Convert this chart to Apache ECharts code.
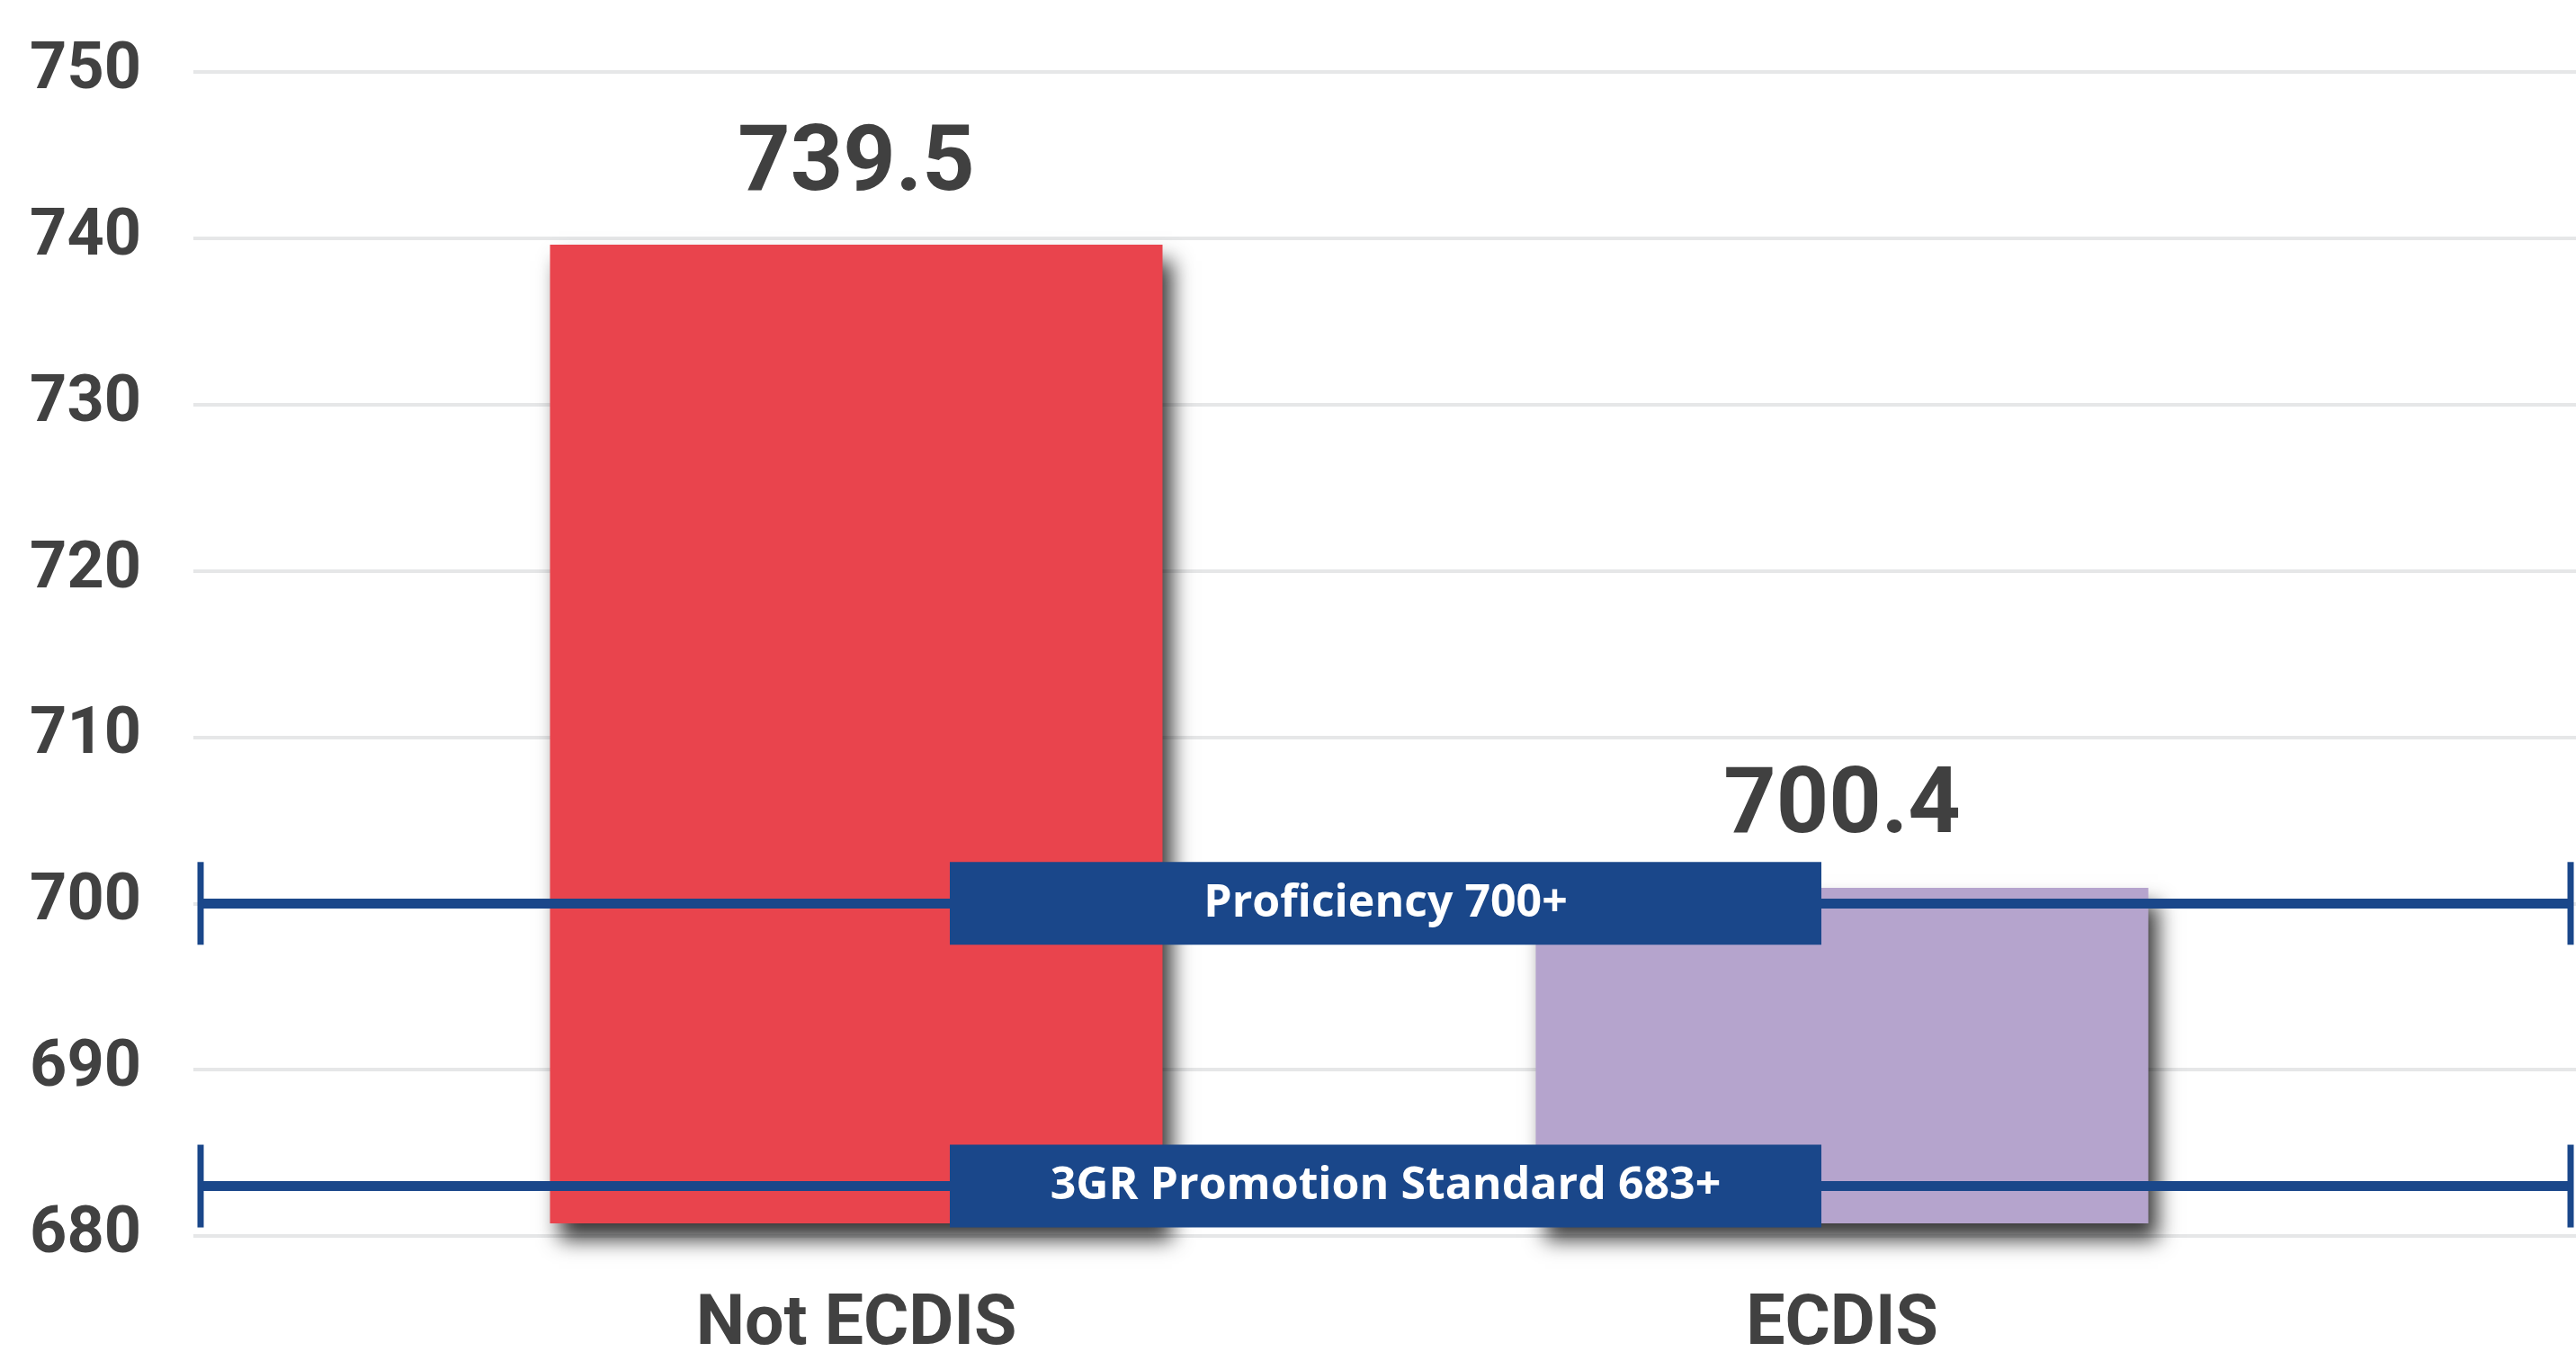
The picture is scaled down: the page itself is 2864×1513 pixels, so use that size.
<!DOCTYPE html>
<html>
<head>
<meta charset="utf-8">
<script src="https://cdn.jsdelivr.net/npm/echarts@6/dist/echarts.min.js"></script>
<style>
html,body{margin:0;padding:0;background:#fff;}
#chart{width:2864px;height:1513px;}
</style>
</head>
<body>
<div id="chart"></div>
<script>
var categories = ['Not ECDIS', 'ECDIS'];
var scores = [739.5, 700.4];
var barColors = ['#e9444d', '#b5a4cd'];
var thresholdValues = [700, 683];
var thresholdLabels = ['Proficiency 700+', '3GR Promotion Standard 683+'];
var yMin = 680, yMax = 750, yStep = 10;

var textColor = '#414141';
var navy = '#1a478a';
var mainFont = "Roboto, 'Liberation Sans', sans-serif";

var chart = echarts.init(document.getElementById('chart'));
chart.setOption({
  animation: false,
  backgroundColor: '#ffffff',
  grid: [
    {left: 215, right: 0, top: 80, bottom: 139},
    {left: 404, right: 268, top: 80, bottom: 139},
    {left: 223, right: 6, top: 80, bottom: 139}
  ],
  xAxis: [
    {type: 'category', gridIndex: 0, data: categories, show: false},
    {type: 'category', gridIndex: 1, data: categories,
      axisLine: {show: false}, axisTick: {show: false},
      axisLabel: {margin: 76, color: textColor, fontFamily: mainFont, fontWeight: 'bold', fontSize: 77}},
    {type: 'value', gridIndex: 2, min: 0, max: 1, show: false}
  ],
  yAxis: [
    {type: 'value', gridIndex: 0, min: yMin, max: yMax, interval: yStep,
      axisLine: {show: false}, axisTick: {show: false},
      axisLabel: {margin: 58, color: textColor, fontFamily: mainFont, fontWeight: 'bold', fontSize: 72},
      splitLine: {show: true, lineStyle: {color: '#e6e7e8', width: 4}}},
    {type: 'value', gridIndex: 1, min: yMin, max: yMax, interval: yStep, show: false},
    {type: 'value', gridIndex: 2, min: yMin, max: yMax, interval: yStep, show: false}
  ],
  series: [
    {
      type: 'bar', xAxisIndex: 1, yAxisIndex: 1,
      barWidth: 681,
      data: scores.map(function (v, i) {
        return {value: v, itemStyle: {color: barColors[i]}};
      }),
      itemStyle: {
        shadowColor: 'rgba(0,0,0,0.78)', shadowBlur: 22, shadowOffsetX: 10, shadowOffsetY: 18
      },
      label: {
        show: true, position: 'top', distance: 36,
        color: '#404040', fontFamily: mainFont, fontWeight: 'bold', fontSize: 102
      },
      z: 2
    },
    {
      type: 'line', xAxisIndex: 2, yAxisIndex: 2, data: [],
      z: 5,
      markLine: {
        silent: true,
        symbol: ['rect', 'rect'],
        symbolSize: [92, 7],
        lineStyle: {color: navy, width: 11, type: 'solid'},
        label: {
          show: true, position: 'middle', distance: 0,
          formatter: '{b}',
          backgroundColor: navy,
          color: '#ffffff',
          fontFamily: "'Open Sans', sans-serif", fontWeight: 'bold', fontSize: 50,
          width: 969, height: 92, lineHeight: 92,
          align: 'center', verticalAlign: 'middle', padding: 0
        },
        data: thresholdValues.map(function (v, i) {
          return {yAxis: v, name: thresholdLabels[i]};
        })
      }
    }
  ]
});
</script>
</body>
</html>
